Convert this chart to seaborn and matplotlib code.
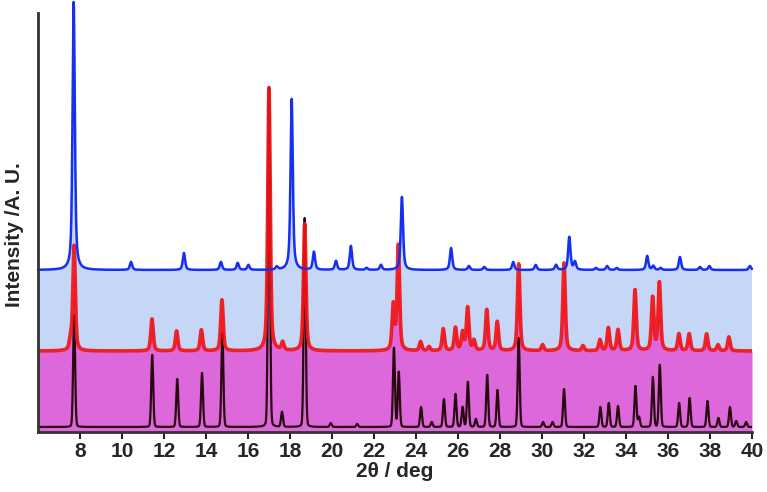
import numpy as np
import matplotlib.pyplot as plt
import seaborn as sns

# SECTION - DATA
# two-theta range of the scan
two_theta_range = [6.0, 40.0]

# simulated pattern (black): peak positions / heights
calc_pos = [7.72, 11.44, 12.63, 13.81, 14.78, 17.00, 17.62, 18.70, 19.94, 21.20,
            22.95, 23.18, 24.24, 24.75, 25.33, 25.88, 26.22, 26.47, 26.85, 27.39,
            27.88, 28.89, 30.05, 30.50, 31.05, 32.78, 33.18, 33.62, 34.45, 34.62,
            35.28, 35.61, 36.53, 37.03, 37.88, 38.40, 38.95, 39.25, 39.72]
calc_int = [112, 72, 48, 54, 94, 340, 15, 209, 4, 3,
            79, 55, 20, 5, 28, 33, 20, 45, 8, 52,
            37, 89, 5, 5, 38, 20, 24, 21, 41, 10,
            50, 62, 24, 29, 26, 9, 20, 6, 5]
calc_base = 5

# as-synthesised sample (red)
red_pos = [7.55, 7.72, 11.43, 12.60, 13.78, 14.76, 17.00, 17.65, 18.70, 22.92,
           23.16, 24.22, 24.62, 25.30, 25.88, 26.22, 26.46, 26.76, 27.37, 27.87,
           28.89, 30.03, 31.05, 31.95, 32.76, 33.16, 33.62, 34.43, 35.27, 35.59,
           36.52, 37.01, 37.84, 38.38, 38.90]
red_int = [10, 105, 32, 20, 21, 51, 263, 8, 127, 45,
           105, 9, 4, 22, 23, 18, 43, 10, 41, 29,
           87, 6, 88, 5, 11, 23, 21, 61, 53, 68,
           17, 17, 17, 6, 14]
red_base = 81

# treated sample (blue)
blue_pos = [7.70, 10.43, 12.95, 14.71, 15.51, 16.02, 17.37, 18.08, 19.14, 20.19,
            20.90, 21.65, 22.33, 23.33, 25.67, 26.52, 27.25, 28.63, 29.70, 30.67,
            31.30, 31.57, 32.57, 33.10, 33.56, 35.01, 35.30, 35.65, 36.57, 37.52,
            37.97, 39.90]
blue_int = [268, 8, 17, 8, 7, 5, 3, 171, 18, 9,
            24, 2, 5, 73, 22, 4, 3, 8, 5, 5,
            33, 8, 2, 4, 2, 14, 4, 2, 13, 3,
            4, 4]
blue_base = 162

x_ticks = list(range(8, 41, 2))
# !SECTION


# SECTION - FUNCTIONS
def pattern(x, pos, height, base, fwhm, eta):
    """Sum of pseudo-Voigt peaks on a flat background."""
    y = np.full_like(x, float(base))
    hw = fwhm / 2
    for p, h in zip(pos, height):
        d = x - p
        gauss = np.exp(-np.log(2) * (d / hw) ** 2)
        lor = 1 / (1 + (d / hw) ** 2)
        y += h * (eta * lor + (1 - eta) * gauss)
    return y
# !SECTION


# SECTION - MAIN
if __name__ == "__main__":
    x = np.linspace(two_theta_range[0], two_theta_range[1], 3401)
    y_calc = pattern(x, calc_pos, calc_int, calc_base, fwhm=0.11, eta=0.1)
    y_red = pattern(x, red_pos, red_int, red_base, fwhm=0.14, eta=0.5)
    y_blue = pattern(x, blue_pos, blue_int, blue_base, fwhm=0.13, eta=0.6)

    sns.set_style("white")
    plt.rcParams["font.family"] = ["Liberation Sans", "DejaVu Sans"]
    plt.rcParams["font.weight"] = "bold"

    fig = plt.figure(figsize=(7.67, 4.92), dpi=100)
    ax = fig.add_axes([38 / 767, 60 / 492, 714 / 767, 419 / 492])

    # coloured bands
    ax.fill_between(x, 0, y_red, color="#dc68dc", lw=0)
    ax.fill_between(x, y_red, y_blue, where=y_blue >= y_red,
                    color="#c6d6f7", lw=0, interpolate=True)

    sns.lineplot(x=x, y=y_calc, ax=ax, color="#2a0810", lw=1.6)
    sns.lineplot(x=x, y=y_red, ax=ax, color="#f01414", lw=2.6, alpha=0.92)
    sns.lineplot(x=x, y=y_blue, ax=ax, color="#1530f0", lw=1.8, clip_on=False)

    ax.set_xlim(*two_theta_range)
    ax.set_ylim(0, 419)
    ax.set_xticks(x_ticks)
    ax.set_xticklabels([str(t) for t in x_ticks], fontsize=15, fontweight="bold")
    ax.set_yticks([])
    ax.tick_params(axis="x", direction="out", length=5, width=1.5,
                   color="#222222", pad=2, bottom=True)

    for side in ["top", "right"]:
        ax.spines[side].set_visible(False)
    for side in ["left", "bottom"]:
        ax.spines[side].set_color("#333333")
        ax.spines[side].set_linewidth(2)

    ax.set_xlabel("2θ / deg", fontsize=15, fontweight="bold", labelpad=1)
    ax.set_ylabel("Intensity /A. U.", fontsize=15, fontweight="bold")
    ax.yaxis.set_label_coords(-0.019, 0.47)

    fig.savefig("out.png", dpi=100)
# !SECTION
